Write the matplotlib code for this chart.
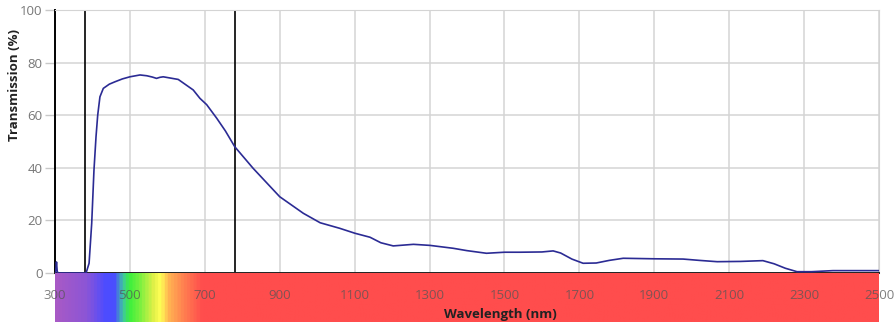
import matplotlib.pyplot as plt
import numpy as np
from matplotlib.colors import LinearSegmentedColormap

plt.rcParams["font.family"] = ["Open Sans", "DejaVu Sans"]

# measured transmission curve (nm, %)
wavelength_nm = [300, 302, 304, 306, 309, 340, 383, 391, 398, 404, 409.5, 414, 420, 429,
                 445, 460, 480, 500, 527, 545, 560, 571, 580, 589, 605, 629, 650, 669,
                 687, 705, 732, 755, 780, 829, 900, 963, 1008, 1060, 1101, 1141, 1170,
                 1203, 1257, 1301, 1363, 1400, 1452, 1500, 1541, 1600, 1630, 1650, 1680,
                 1710, 1745, 1780, 1817, 1900, 1977, 2020, 2068, 2130, 2190, 2220, 2250,
                 2281, 2320, 2377, 2440, 2500]
transmission = [0, 1.0, 4.2, 0.5, 0, 0, 0, 3.7, 18.9, 39, 51.8, 60, 67, 70.2,
                71.8, 72.7, 73.8, 74.6, 75.3, 75.0, 74.5, 74.0, 74.4, 74.6, 74.2, 73.6, 71.5, 69.6,
                66.4, 64.0, 58.8, 54.0, 48.0, 39.8, 29.0, 22.7, 19.1, 17.0, 15.1, 13.6, 11.5,
                10.3, 10.9, 10.5, 9.4, 8.5, 7.5, 7.9, 7.9, 8.0, 8.4, 7.6, 5.3,
                3.7, 3.8, 4.8, 5.6, 5.4, 5.3, 4.8, 4.3, 4.4, 4.7, 3.5, 1.8,
                0.5, 0.5, 0.9, 0.9, 0.9]

x_ticks = list(range(300, 2501, 200))
y_ticks = list(range(0, 101, 20))
marker_lines_nm = [380, 780]

# visible spectrum strip colours along the wavelength axis
spectrum_stops_nm = [300, 380, 430, 455, 478, 495, 525, 560, 578, 600, 640, 690, 2500]
spectrum_colors = ["#a85ac6", "#8c55d6", "#4d4cff", "#4b4eff", "#3fc8a0", "#3cf03c",
                   "#7ef040", "#e2f048", "#ffff55", "#ffb452", "#ff8050", "#ff4d4d", "#ff4d4d"]

W, H = 896, 325
fig = plt.figure(figsize=(W / 100, H / 100), dpi=100)
ax = fig.add_axes([55 / W, 52 / H, 824 / W, 263 / H])
ax_bar = fig.add_axes([55 / W, 3 / H, 824 / W, 49 / H], sharex=ax)

ax.plot(wavelength_nm, transmission, color="#2b2b94", lw=1.2, zorder=3)
for nm in marker_lines_nm:
    ax.axvline(nm, color="black", lw=1.2, zorder=2)

ax.set_xlim(300, 2500)
ax.set_ylim(0, 100)
ax.set_xticks(x_ticks)
ax.set_yticks(y_ticks)
ax.grid(True, color="#d4d4d4", lw=1.1)
ax.set_axisbelow(True)
ax.tick_params(axis="x", length=0, labelbottom=False)
ax.tick_params(axis="y", length=7, width=1, color="#c8c8c8", pad=2,
               labelsize=9.5, labelcolor="#777777")
for side in ("top", "right"):
    ax.spines[side].set_color("#d4d4d4")
ax.spines["left"].set_color("black")
ax.spines["left"].set_linewidth(1.4)
ax.spines["bottom"].set_color("#222222")
ax.spines["bottom"].set_linewidth(1.4)

lo, hi = spectrum_stops_nm[0], spectrum_stops_nm[-1]
cmap = LinearSegmentedColormap.from_list(
    "spectrum", [((s - lo) / (hi - lo), c) for s, c in zip(spectrum_stops_nm, spectrum_colors)])
gradient = np.linspace(0, 1, 2200).reshape(1, -1)
ax_bar.imshow(gradient, cmap=cmap, aspect="auto", extent=[lo, hi, 0, 1])
ax_bar.set_ylim(0, 1)
ax_bar.axis("off")
for t in x_ticks:
    ax_bar.text(t, 0.54, str(t), ha="center", va="center", fontsize=9.5,
                color="#555555", alpha=0.75)
ax_bar.text(1490, 0.15, "Wavelength (nm)", ha="center", va="center",
            fontsize=9.5, fontweight="bold", color="#222222")

fig.text(15 / W, 1 - 85 / H, "Transmission (%)", rotation=90, ha="center", va="center",
         fontsize=9.5, fontweight="bold", color="#222222")

fig.savefig("out.png", dpi=100)
